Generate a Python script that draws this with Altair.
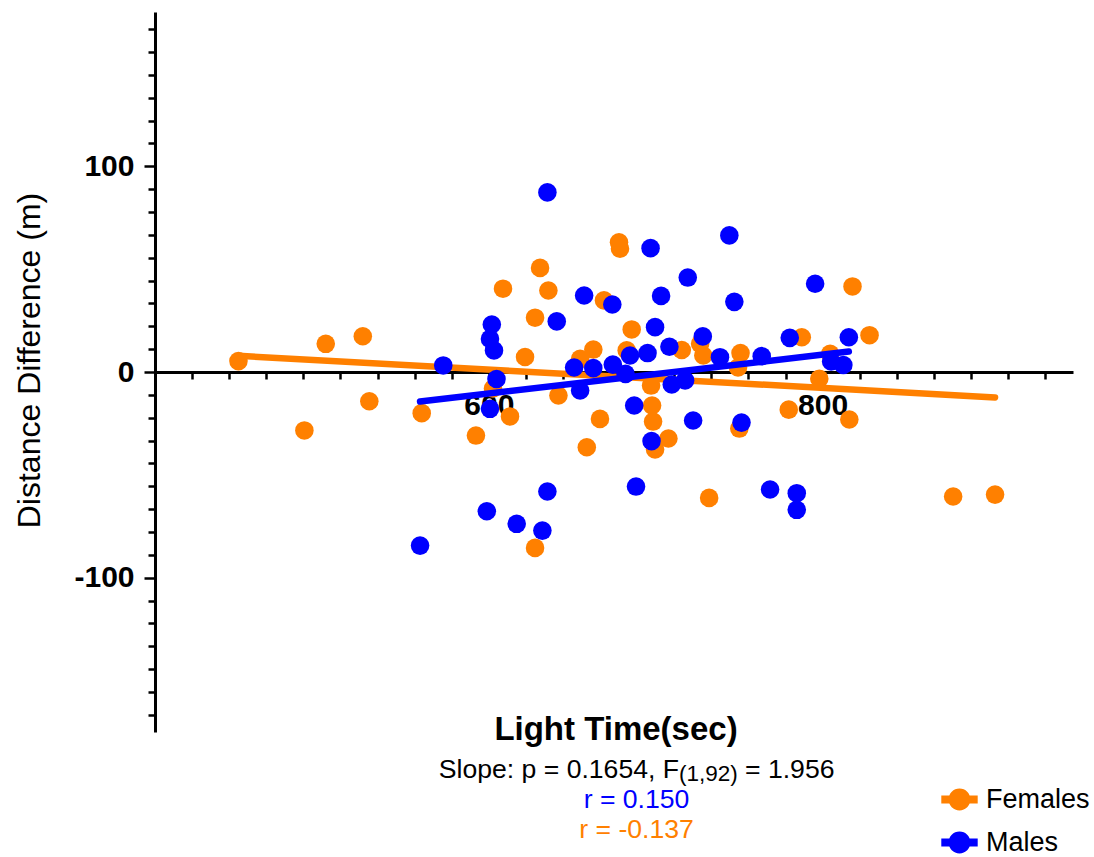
import altair as alt
import pandas as pd

# Light time (s) against distance difference (m), one pair of lists per group
female_time = [450.0, 502.3, 524.5, 528.4, 489.5, 559.8, 678.0, 678.6, 630.7, 608.5,
               635.7, 669.0, 627.7, 685.6, 621.7, 662.6, 654.7, 682.6, 602.5, 641.7,
               612.7, 592.3, 666.6, 658.7, 697.2, 697.8, 698.4, 699.6, 707.6, 715.6,
               726.6, 728.5, 750.8, 749.3, 750.1, 732.0, 779.7, 787.5, 804.5, 798.0,
               816.0, 817.9, 828.1, 878.2, 903.3, 627.7]
female_diff = [5.3, 13.7, 17.4, -14.2, -28.4, -20.0, 63.1, 59.9, 50.6, 40.5,
               39.6, 34.8, 26.4, 20.7, 7.3, 10.9, 6.4, 10.5, -8.0, -11.4,
               -21.6, -30.9, -22.8, -36.6, -6.6, -16.3, -24.1, -37.7, -32.3, 10.7,
               13.7, 8.0, 9.2, 2.2, -27.5, -61.2, -18.3, 16.9, 8.8, -3.3,
               -23.1, 41.6, 17.9, -60.5, -59.6, -85.5]

male_time = [572.7, 635.1, 657.1, 674.0, 640.7, 601.8, 600.7, 603.1, 696.9, 699.6,
             703.2, 744.1, 719.2, 747.1, 795.5, 728.2, 708.2, 695.1, 684.6, 674.3,
             651.1, 662.6, 654.7, 604.6, 600.7, 681.9, 687.1, 738.5, 763.5, 780.3,
             815.7, 805.1, 812.4, 709.6, 717.6, 722.4, 751.4, 697.5, 558.8, 598.8,
             616.7, 632.1, 635.1, 688.2, 768.5, 784.5, 784.5]
male_diff = [3.2, 87.3, 37.2, 32.8, 24.6, 23.1, 16.1, 10.5, 60.2, 21.8,
             37.0, 66.4, 45.9, 34.1, 42.9, 17.3, 12.3, 9.2, 8.0, 3.6,
             2.2, 1.9, -9.0, -3.4, -17.9, -0.9, -16.3, 7.2, 7.7, 16.6,
             16.9, 5.1, 3.4, -6.1, -4.1, -23.6, -24.6, -33.6, -84.4, -67.7,
             -73.8, -77.1, -58.1, -55.7, -57.1, -58.9, -67.0]

groups = ["Females", "Males"]
x_labels = ["600", "800"]
y_labels = ["-100", "0", "100"]
stats_text = ["Slope: p = 0.1654, F", "(1,92)", "= 1.956"]
r_text = ["r = 0.150", "r = -0.137"]

ORANGE = "#FF8000"
BLUE = "#0000FF"
FONT = "Liberation Sans"

rows = [{"time": t, "diff": d, "sex": groups[0]} for t, d in zip(female_time, female_diff)]
rows += [{"time": t, "diff": d, "sex": groups[1]} for t, d in zip(male_time, male_diff)]
df = pd.DataFrame(rows)

W, H = 918, 720

# minor ticks every ninth of a major step
x_ticks = [round(400 + k * 200 / 9, 4) for k in range(1, 25)]
y_ticks = [round(k * 100 / 9, 4) for k in range(-15, 16)]


def label_expr(labels):
    parts = [f"datum.value === {float(s)} ? '{s}'" for s in labels]
    return " : ".join(parts) + " : ''"


def major_test(labels):
    return " || ".join(f"datum.value === {float(s)}" for s in labels)


x_axis = alt.Axis(
    values=x_ticks, labelExpr=label_expr(x_labels), title=None, grid=False,
    offset=-H / 2, domainColor="black", domainWidth=3,
    tickColor="black", tickWidth=2.5,
    tickSize={"condition": {"test": major_test(x_labels), "value": 11}, "value": 7},
    labelFont=FONT, labelFontSize=30, labelFontWeight="bold", labelColor="black",
    labelPadding=7, labelOverlap=False, labelFlush=False,
)
y_axis = alt.Axis(
    values=y_ticks, labelExpr=label_expr(y_labels), grid=False,
    domainColor="black", domainWidth=3, tickColor="black", tickWidth=2.5,
    tickSize={"condition": {"test": major_test(y_labels), "value": 11}, "value": 7},
    labelFont=FONT, labelFontSize=30, labelFontWeight="bold", labelColor="black",
    labelPadding=10, labelOverlap=False, labelFlush=False,
    title="Distance Difference (m)", titleFont=FONT, titleFontSize=32,
    titleFontWeight="normal", titleColor="black", titleAngle=270,
    titleX=-126, titleY=348, titleAlign="center", titleBaseline="middle",
)

X = alt.X("time:Q", scale=alt.Scale(domain=[400, 950], nice=False, zero=False), axis=x_axis)
Y = alt.Y("diff:Q", scale=alt.Scale(domain=[-175, 175], nice=False, zero=False), axis=y_axis)

legend_symbol = ("M-1,-0.22H1V0.22H-1Z "
                 "M0.6,0A0.6,0.6 0 1,1 -0.6,0A0.6,0.6 0 1,1 0.6,0Z")
color = alt.Color(
    "sex:N",
    scale=alt.Scale(domain=groups, range=[ORANGE, BLUE]),
    legend=alt.Legend(
        title=None, orient="none", legendX=786, legendY=769,
        symbolType=legend_symbol, symbolSize=1325, symbolStrokeWidth=0,
        labelFont=FONT, labelFontSize=27, labelColor="black", labelOffset=8,
        rowPadding=11,
    ),
)

base = alt.Chart(df)


def points(group):
    return (base.transform_filter(alt.datum.sex == group)
            .mark_circle(size=345, opacity=1)
            .encode(x=X, y=Y, color=color))


def fit_line(group, c):
    return (base.transform_filter(alt.datum.sex == group)
            .transform_regression("time", "diff")
            .mark_line(color=c, strokeWidth=6.5, strokeCap="round")
            .encode(x=X, y=Y))


def text(label, x, y, size, col="black", weight="normal", align="center", baseline="middle"):
    return (alt.Chart(pd.DataFrame({"label": [label]}))
            .mark_text(font=FONT, fontSize=size, fontWeight=weight, color=col,
                       align=align, baseline=baseline)
            .encode(x=alt.value(x), y=alt.value(y), text="label:N"))


annotations = [
    text("Light Time(sec)", 461, 718, 33, weight="bold"),
    text(stats_text[0], 524, 766, 26.6, align="right", baseline="alphabetic"),
    text(stats_text[1], 524, 769, 22.5, align="left", baseline="alphabetic"),
    text(stats_text[2], 590, 766, 26.6, align="left", baseline="alphabetic"),
    text(r_text[0], 481.5, 788, 26.6, col=BLUE),
    text(r_text[1], 481.5, 818, 26.6, col=ORANGE),
]

chart = alt.layer(
    points(groups[0]), fit_line(groups[0], ORANGE),
    points(groups[1]), fit_line(groups[1], BLUE),
    *annotations,
).properties(
    width=W, height=H,
    padding={"left": 155, "top": 12, "right": 21, "bottom": 125},
    autosize=alt.AutoSizeParams(type="none"),
    background="white",
).configure_view(stroke=None)

chart.save("out.html", embed_options={"renderer": "svg", "actions": False})
